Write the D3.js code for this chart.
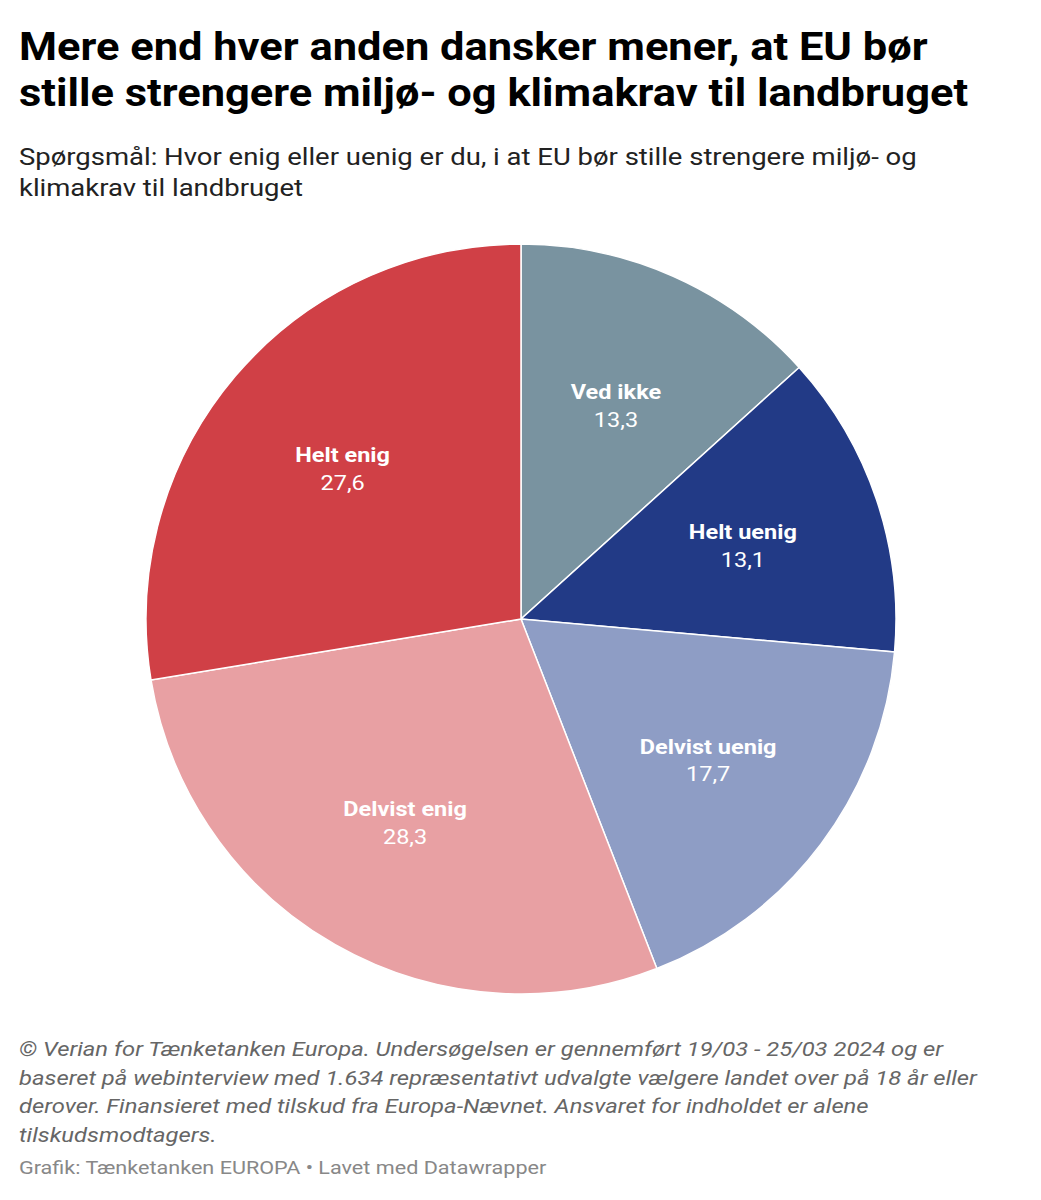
<!DOCTYPE html>
<html><head><meta charset="utf-8">
<script src="https://cdn.jsdelivr.net/npm/d3@7"></script>
<style>
body{margin:0;background:#fff;font-family:Roboto,"Noto Sans",sans-serif;}
svg{display:block}
</style></head><body>
<svg id="c" width="1041" height="1200"></svg>
<script>
const categories = ["Ved ikke","Helt uenig","Delvist uenig","Delvist enig","Helt enig"];
const values = [13.3,13.1,17.7,28.3,27.6];
const colors = ["#7993a0","#223a86","#8e9dc5","#e8a0a3","#d04046"];

const svg = d3.select("#c");
function lines(cls, arr, x, y0, dy, size, sx, attrs){
  const t = svg.selectAll("text."+cls).data(arr).join("text").attr("class",cls)
    .attr("transform",(d,i)=>`translate(${x},${y0+i*dy}) scale(${sx},1)`)
    .attr("font-size",size).text(d=>d);
  Object.entries(attrs).forEach(([k,v])=>t.attr(k,v));
}
lines("t",["Mere end hver anden dansker mener, at EU bør","stille strengere miljø- og klimakrav til landbruget"],
  19,60,46,38,1.143,{"font-weight":700,fill:"#000"});
lines("s",["Spørgsmål: Hvor enig eller uenig er du, i at EU bør stille strengere miljø- og","klimakrav til landbruget"],
  19,165,31,24,1.145,{fill:"#222"});

const cx=521, cy=619, R=375;
const data = categories.map((c,i)=>({c,v:values[i],col:colors[i]}));
const pie = d3.pie().value(d=>d.v).sort(null);
const arc = d3.arc().innerRadius(0).outerRadius(R);
const labelArc = d3.arc().innerRadius(234).outerRadius(234);
const g = svg.append("g").attr("transform",`translate(${cx},${cy})`);
const arcs = pie(data);
g.selectAll("path").data(arcs).join("path")
  .attr("d",arc).attr("fill",d=>d.data.col).attr("stroke","#fff").attr("stroke-width",1.5);
const lab = g.selectAll("g.l").data(arcs).join("g").attr("class","l")
  .attr("transform",d=>`translate(${labelArc.centroid(d)}) scale(1.12,1)`);
lab.append("text").attr("text-anchor","middle").attr("y",-6)
  .attr("font-size",21).attr("font-weight",700).attr("fill","#fff").text(d=>d.data.c);
lab.append("text").attr("text-anchor","middle").attr("y",22)
  .attr("font-size",21).attr("fill","#fff").text(d=>d.data.v.toFixed(1).replace(".",","));

lines("f",["© Verian for Tænketanken Europa. Undersøgelsen er gennemført 19/03 - 25/03 2024 og er",
"baseret på webinterview med 1.634 repræsentativt udvalgte vælgere landet over på 18 år eller",
"derover. Finansieret med tilskud fra Europa-Nævnet. Ansvaret for indholdet er alene",
"tilskudsmodtagers."],19,1056,28.5,20,1.19,{"font-style":"italic",fill:"#666"});
lines("cr",["Grafik: Tænketanken EUROPA • Lavet med Datawrapper"],19,1174,0,18,1.2,{fill:"#888"});
</script></body></html>
